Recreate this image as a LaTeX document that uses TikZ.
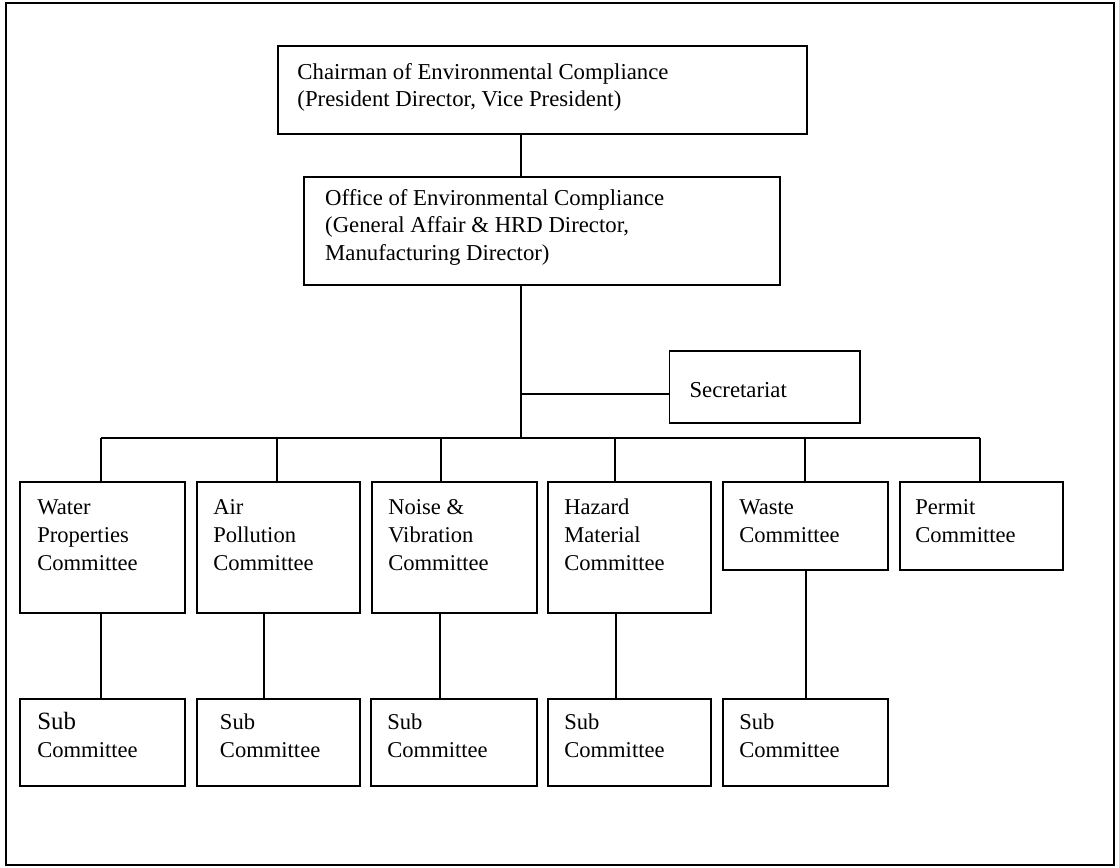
\documentclass[tikz,border=0pt]{standalone}
\usepackage{fontspec}
\setmainfont{Liberation Serif}
\newcommand\mytab[1]{\begin{tabular}[t]{@{}l@{}}#1\end{tabular}}
\begin{document}
\begin{tikzpicture}[x=1pt,y=-1pt,
  box/.style={draw, line width=2pt, rectangle, inner sep=0pt, outer sep=0pt},
  txt/.style={anchor=base west, inner sep=0pt, outer sep=0pt, font=\fontsize{23.8}{28.6}\selectfont},
  ctxt/.style={anchor=base west, inner sep=0pt, outer sep=0pt, font=\fontsize{23.6}{29.2}\selectfont},
  link/.style={line width=2pt}]
\useasboundingbox (0,0) rectangle (1170,907);
\draw[line width=2pt] (6,3.5) rectangle (1165,904);
% top boxes
\node[box, minimum width=553pt, minimum height=92pt] (chair) at (567.5,94) {};
\node[box, minimum width=498pt, minimum height=113pt] (office) at (567,241.5) {};
\node[box, minimum width=199pt, minimum height=75pt] (sec) at (799.5,404.5) {};
\node[txt] (chairT) at (311,83) {\mytab{Chairman of Environmental Compliance\\(President Director, Vice President)}};
\node[txt] (officeT) at (340,215) {\mytab{Office of Environmental Compliance\\(General Affair \& HRD Director,\\Manufacturing Director)}};
\node[txt] (secT) at (721,416) {Secretariat};
% committees
\node[box, minimum width=172pt, minimum height=137pt] (water) at (107,572.5) {};
\node[box, minimum width=170pt, minimum height=137pt] (air) at (291,572.5) {};
\node[box, minimum width=172pt, minimum height=137pt] (noise) at (475,572.5) {};
\node[box, minimum width=170pt, minimum height=137pt] (hazard) at (658,572.5) {};
\node[box, minimum width=172pt, minimum height=92pt] (waste) at (842,550) {};
\node[box, minimum width=170pt, minimum height=92pt] (permit) at (1026,550) {};
\node[ctxt] (waterT) at (39,538) {\mytab{Water\\Properties\\Committee}};
\node[ctxt] (airT) at (223,538) {\mytab{Air\\Pollution\\Committee}};
\node[ctxt] (noiseT) at (406,538) {\mytab{Noise \&\\Vibration\\Committee}};
\node[ctxt] (hazardT) at (590,538) {\mytab{Hazard\\Material\\Committee}};
\node[ctxt] (wasteT) at (773,538) {\mytab{Waste\\Committee}};
\node[ctxt] (permitT) at (957,538) {\mytab{Permit\\Committee}};
% sub committees
\node[box, minimum width=172pt, minimum height=91pt] (sub1) at (107,776.5) {};
\node[box, minimum width=170pt, minimum height=91pt] (sub2) at (291,776.5) {};
\node[box, minimum width=173pt, minimum height=91pt] (sub3) at (474.5,776.5) {};
\node[box, minimum width=170pt, minimum height=91pt] (sub4) at (658,776.5) {};
\node[box, minimum width=172pt, minimum height=91pt] (sub5) at (842,776.5) {};
\node[ctxt] (sub1T) at (39,763) {\mytab{{\fontsize{26}{30}\selectfont Sub}\\Committee}};
\node[ctxt] (sub2T) at (230,763) {\mytab{Sub\\Committee}};
\node[ctxt] (sub3T) at (405,763) {\mytab{Sub\\Committee}};
\node[ctxt] (sub4T) at (590,763) {\mytab{Sub\\Committee}};
\node[ctxt] (sub5T) at (773,763) {\mytab{Sub\\Committee}};
% connector coordinates
\coordinate (trunk) at (545,458);
\coordinate (secY) at (545,412);
\coordinate (busW) at (106,458);
\coordinate (busA) at (290,458);
\coordinate (busN) at (461,458);
\coordinate (busH) at (643,458);
\coordinate (busS) at (842,458);
\coordinate (busP) at (1025,458);
\coordinate (cA) at (276,0);
\coordinate (cN) at (460,0);
\coordinate (cH) at (644,0);
\coordinate (cS) at (843,0);
% connectors
\draw[link] (chair.south -| trunk) -- (office.north -| trunk);
\draw[link] (office.south -| trunk) -- (trunk);
\draw[link] (secY) -- (sec.west |- secY);
\draw[link] (busW) -- (busP);
\draw[link] (busW) -- (water.north -| busW);
\draw[link] (busA) -- (air.north -| busA);
\draw[link] (busN) -- (noise.north -| busN);
\draw[link] (busH) -- (hazard.north -| busH);
\draw[link] (busS) -- (waste.north -| busS);
\draw[link] (busP) -- (permit.north -| busP);
\draw[link] (water.south -| busW) -- (sub1.north -| busW);
\draw[link] (air.south -| cA) -- (sub2.north -| cA);
\draw[link] (noise.south -| cN) -- (sub3.north -| cN);
\draw[link] (hazard.south -| cH) -- (sub4.north -| cH);
\draw[link] (waste.south -| cS) -- (sub5.north -| cS);
\end{tikzpicture}
\end{document}
